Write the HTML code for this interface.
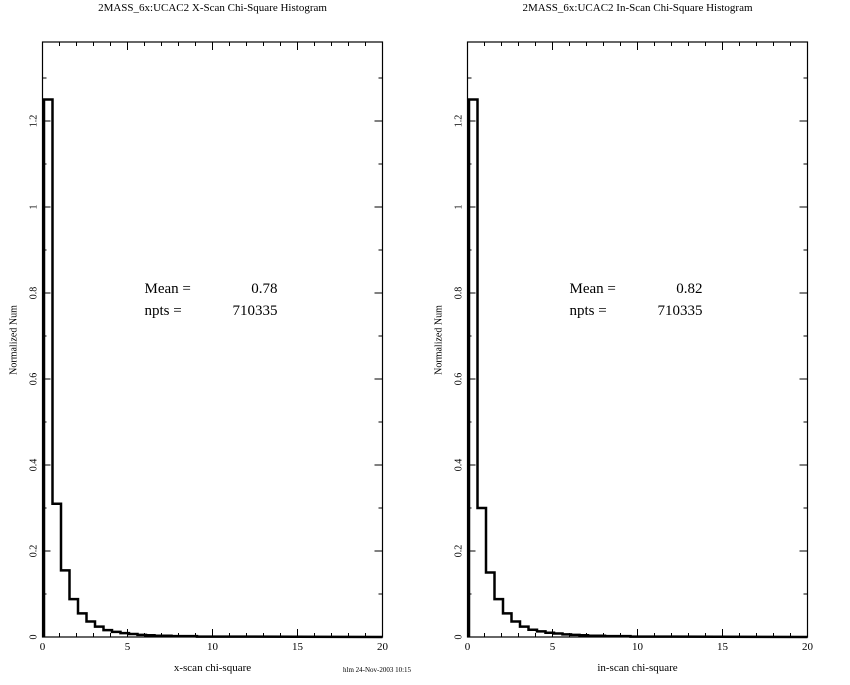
<!DOCTYPE html>
<html><head><style>
body{margin:0;background:#fff}
svg text{font-family:"Liberation Serif",serif;fill:#000}
</style></head><body>
<svg id="s" width="850" height="680" xmlns="http://www.w3.org/2000/svg"></svg>
<script>
const s=document.getElementById('s');let h='';
function plot(x0,title,xl,mean,vals){
 const x1=x0+340,y0=637,yt=42,sx=17,sy=430;
 h+=`<text x="${(x0+x1)/2}" y="11" font-size="11" text-anchor="middle">${title}</text>`;
 h+=`<rect x="${x0}" y="${yt}" width="340" height="${y0-yt}" fill="none" stroke="#000" stroke-width="1.2"/>`;
 for(let i=0;i<=20;i++){const x=x0+i*sx,L=i%5==0?8:4;
  h+=`<line x1="${x}" y1="${y0}" x2="${x}" y2="${y0-L}" stroke="#000"/><line x1="${x}" y1="${yt}" x2="${x}" y2="${yt+L}" stroke="#000"/>`;
  if(i%5==0)h+=`<text x="${x}" y="650" font-size="11" text-anchor="middle">${i}</text>`;}
 for(let j=0;j<=13;j++){const y=y0-j*0.1*sy,L=j%2==0?8:4;
  h+=`<line x1="${x0}" y1="${y}" x2="${x0+L}" y2="${y}" stroke="#000"/><line x1="${x1}" y1="${y}" x2="${x1-L}" y2="${y}" stroke="#000"/>`;
  if(j%2==0){const lab=j==0?'0':j==10?'1':(j/10).toString();
  h+=`<text transform="translate(${x0-6},${y}) rotate(-90)" font-size="10" text-anchor="middle">${lab}</text>`;}}
 h+=`<text transform="translate(${x0-26},340) rotate(-90)" font-size="10" text-anchor="middle">Normalized Num</text>`;
 h+=`<text x="${(x0+x1)/2}" y="671" font-size="11" text-anchor="middle">${xl}</text>`;
 h+=`<text x="${x0+102}" y="293" font-size="15">Mean =</text><text x="${x0+235}" y="293" font-size="15" text-anchor="end">${mean}</text>`;
 h+=`<text x="${x0+102}" y="315" font-size="15">npts =</text><text x="${x0+235}" y="315" font-size="15" text-anchor="end">710335</text>`;
 let d=`M${x0+1.5},${y0}`;
 vals.forEach((v,i)=>{const y=y0-v*sy;d+=` L${x0+1.5+i*8.5},${y} L${x0+1.5+(i+1)*8.5},${y}`;});
 d+=` L${x1},${y0}`;
 h+=`<path d="${d}" fill="none" stroke="#000" stroke-width="2.5"/>`;
}
const a=[1.25,0.31,0.155,0.088,0.055,0.036,0.024,0.016,0.012,0.009,0.007,0.005,0.004,0.003,0.003,0.002,0.002,0.002,0.001,0.001,0.001,0.001,0.001];
const b=[1.25,0.30,0.15,0.088,0.055,0.036,0.024,0.017,0.013,0.010,0.008,0.006,0.005,0.004,0.003,0.003,0.002,0.002,0.002,0.001,0.001,0.001,0.001,0.001];
plot(42.5,"2MASS_6x:UCAC2 X-Scan Chi-Square Histogram","x-scan chi-square","0.78",a);
plot(467.5,"2MASS_6x:UCAC2 In-Scan Chi-Square Histogram","in-scan chi-square","0.82",b);
h+=`<text x="343" y="672" font-size="7">hlm 24-Nov-2003 10:15</text>`;
s.innerHTML=h;
</script>
</body></html>
